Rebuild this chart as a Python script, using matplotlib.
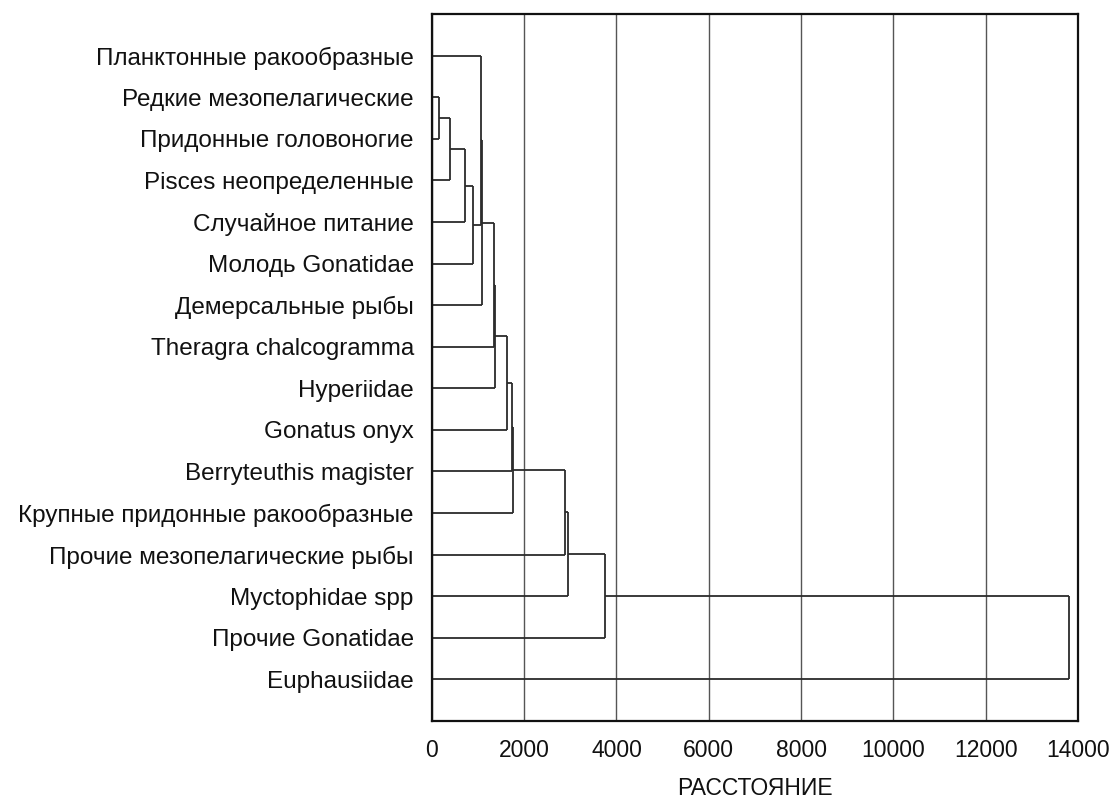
import matplotlib
matplotlib.use('Agg')
import matplotlib.pyplot as plt

plt.rcParams['font.family'] = ['Liberation Sans', 'DejaVu Sans']

# листья сверху вниз
labels = [
    "Планктонные ракообразные",
    "Редкие мезопелагические",
    "Придонные головоногие",
    "Pisces неопределенные",
    "Случайное питание",
    "Молодь Gonatidae",
    "Демерсальные рыбы",
    "Theragra chalcogramma",
    "Hyperiidae",
    "Gonatus onyx",
    "Berryteuthis magister",
    "Крупные придонные ракообразные",
    "Прочие мезопелагические рыбы",
    "Myctophidae spp",
    "Прочие Gonatidae",
    "Euphausiidae",
]

# объединения: индексы 0..15 - листья, 16+ - кластеры (в порядке слияния)
merge_a = [1, 16, 17, 18, 0, 20, 21, 22, 23, 24, 25, 26, 27, 28, 29]
merge_b = [2, 3, 4, 5, 19, 6, 7, 8, 9, 10, 11, 12, 13, 14, 15]
merge_h = [150, 390, 715, 896, 1055, 1077, 1340, 1375, 1618, 1727, 1750,
           2883, 2955, 3750, 13805]

xticks = [0, 2000, 4000, 6000, 8000, 10000, 12000, 14000]

fig = plt.figure(figsize=(11.13, 8.02), dpi=100)
ax = fig.add_axes([0.388, 0.101, 0.5806, 0.8815])

n = len(labels)
ypos = {i: i + 1 for i in range(n)}
xpos = {i: 0.0 for i in range(n)}
for k, (a, b, h) in enumerate(zip(merge_a, merge_b, merge_h)):
    ya, yb = ypos[a], ypos[b]
    ax.plot([xpos[a], h], [ya, ya], color='#2b2b2b', lw=1.3, solid_capstyle='butt')
    ax.plot([xpos[b], h], [yb, yb], color='#2b2b2b', lw=1.3, solid_capstyle='butt')
    ax.plot([h, h], [ya, yb], color='#2b2b2b', lw=1.3, solid_capstyle='butt')
    ypos[n + k] = (ya + yb) / 2
    xpos[n + k] = h

ax.set_xlim(0, 14000)
ax.set_ylim(n + 1, 0)
ax.set_xticks(xticks)
ax.set_xticklabels([str(t) for t in xticks])
ax.set_yticks(range(1, n + 1))
ax.set_yticklabels(labels)
ax.tick_params(length=0, colors='#111111')
ax.tick_params(axis='x', pad=13, labelsize=16.5)
ax.tick_params(axis='y', pad=13, labelsize=17.5)
ax.grid(axis='x', color='#555555', lw=1.0)
ax.set_axisbelow(True)
for s in ax.spines.values():
    s.set_linewidth(1.6)
    s.set_color('#111111')
ax.set_xlabel("РАССТОЯНИЕ", fontsize=16.5, labelpad=11, color='#111111')

fig.savefig("out.png", dpi=100)
